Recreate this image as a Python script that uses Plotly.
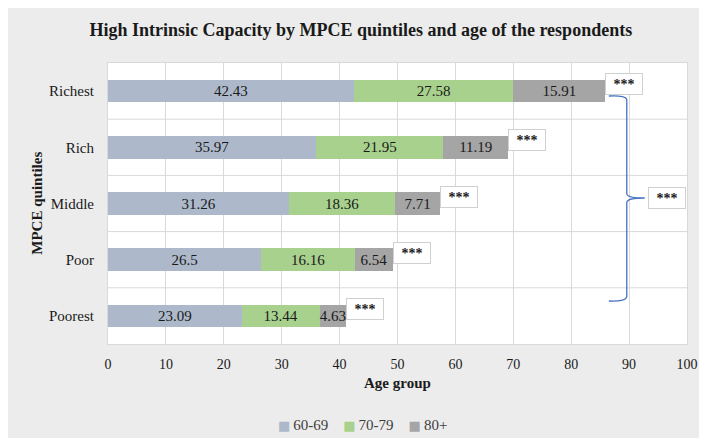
import plotly.graph_objects as go

categories = ["Poorest", "Poor", "Middle", "Rich", "Richest"]
age_60_69 = [23.09, 26.5, 31.26, 35.97, 42.43]
age_70_79 = [13.44, 16.16, 18.36, 21.95, 27.58]
age_80p = [4.63, 6.54, 7.71, 11.19, 15.91]
series_names = ["60-69", "70-79", "80+"]
sig_labels = ["***", "***", "***", "***", "***"]
overall_sig = "***"
x_ticks = list(range(0, 101, 10))

colors = ["#adb9ca", "#a9d18e", "#a5a5a5"]
FONT = "Times New Roman, Liberation Serif, serif"

fig = go.Figure()
for name, vals, col in zip(series_names, [age_60_69, age_70_79, age_80p], colors):
    fig.add_trace(go.Bar(
        y=categories, x=vals, name=name, orientation="h",
        marker=dict(color=col, line=dict(width=0)),
        text=[f"{v:g}" for v in vals], textposition="inside",
        insidetextanchor="middle", constraintext="none",
        textfont=dict(family=FONT, size=15, color="#1a1a1a"),
        hoverinfo="skip", showlegend=False,
    ))

totals = [a + b + c for a, b, c in zip(age_60_69, age_70_79, age_80p)]

annotations = []
for cat, tot, s in zip(categories, totals, sig_labels):
    annotations.append(dict(
        x=tot, y=cat, xref="x", yref="y", text="<b>" + s + "</b>", showarrow=False,
        xanchor="left", yanchor="middle", yshift=7,
        width=36, height=20, borderpad=0, borderwidth=1,
        bordercolor="#d0d0d0", bgcolor="white",
        font=dict(family=FONT, size=14, color="#1a1a1a"),
    ))
annotations.append(dict(
    x=93.3, y=0.5196, xref="x", yref="paper", text="<b>" + overall_sig + "</b>", showarrow=False,
    xanchor="left", yanchor="middle",
    width=36, height=20, borderpad=0, borderwidth=1,
    bordercolor="#d0d0d0", bgcolor="white",
    font=dict(family=FONT, size=14, color="#1a1a1a"),
))
annotations.append(dict(
    x=0.5, y=-0.140, xref="paper", yref="paper", text="<b>Age group</b>",
    showarrow=False, xanchor="center", yanchor="middle",
    font=dict(family=FONT, size=15, color="#1a1a1a"),
))
annotations.append(dict(
    x=-0.124, y=0.5, xref="paper", yref="paper", text="<b>MPCE quintiles</b>",
    showarrow=False, xanchor="center", yanchor="middle", textangle=-90,
    font=dict(family=FONT, size=15, color="#1a1a1a"),
))

# legend built as text: coloured square glyph + series name
gap = "\u00a0" * 4
legend_parts = []
for name, col in zip(series_names, colors):
    legend_parts.append(
        f'<span style="color:{col};font-size:13px;font-family:DejaVu Sans">\u25a0</span>\u2009{name}')
annotations.append(dict(
    x=0.44, y=-0.288, xref="paper", yref="paper", text=gap.join(legend_parts),
    showarrow=False, xanchor="center", yanchor="middle",
    font=dict(family=FONT, size=15, color="#404040"),
))

shapes = []
for k in range(len(categories) - 1):
    shapes.append(dict(type="line", xref="paper", yref="y", x0=0, x1=1,
                       y0=k + 0.5, y1=k + 0.5, line=dict(color="#d9d9d9", width=1),
                       layer="below"))
brace = ("M 86.5,0.8826 Q 89.6,0.886 89.6,0.868 L 89.6,0.536 "
         "Q 89.6,0.5196 92.7,0.5196 Q 89.6,0.5196 89.6,0.503 L 89.6,0.170 "
         "Q 89.6,0.150 86.5,0.153")
shapes.append(dict(type="path", xref="x", yref="paper", path=brace,
                   line=dict(color="#4472c4", width=1.3)))

fig.update_layout(
    width=707, height=438,
    margin=dict(l=100, r=28, t=55, b=102),
    barmode="stack", bargap=0.6,
    paper_bgcolor="#ececec", plot_bgcolor="white",
    title=dict(text="<b>High Intrinsic Capacity by MPCE quintiles and age of the respondents</b>",
               x=0.499, xref="container", xanchor="center",
               y=1 - 22 / 438, yref="container", yanchor="middle",
               font=dict(family=FONT, size=18, color="#1a1a1a")),
    xaxis=dict(range=[0, 100], tickvals=x_ticks, showgrid=True, gridcolor="#d9d9d9",
               zeroline=False, showline=True, linecolor="#d9d9d9", mirror=True,
               ticklabelstandoff=7,
               tickfont=dict(family=FONT, size=14, color="#1a1a1a")),
    yaxis=dict(categoryorder="array", categoryarray=categories, showgrid=False,
               showline=True, linecolor="#d9d9d9", mirror=True,
               range=[-0.5, 4.5], ticklabelstandoff=10,
               tickfont=dict(family=FONT, size=15, color="#1a1a1a")),
    uniformtext=dict(minsize=15, mode="show"),
    annotations=annotations, shapes=shapes,
    showlegend=False,
)

fig.write_html("out.html")
